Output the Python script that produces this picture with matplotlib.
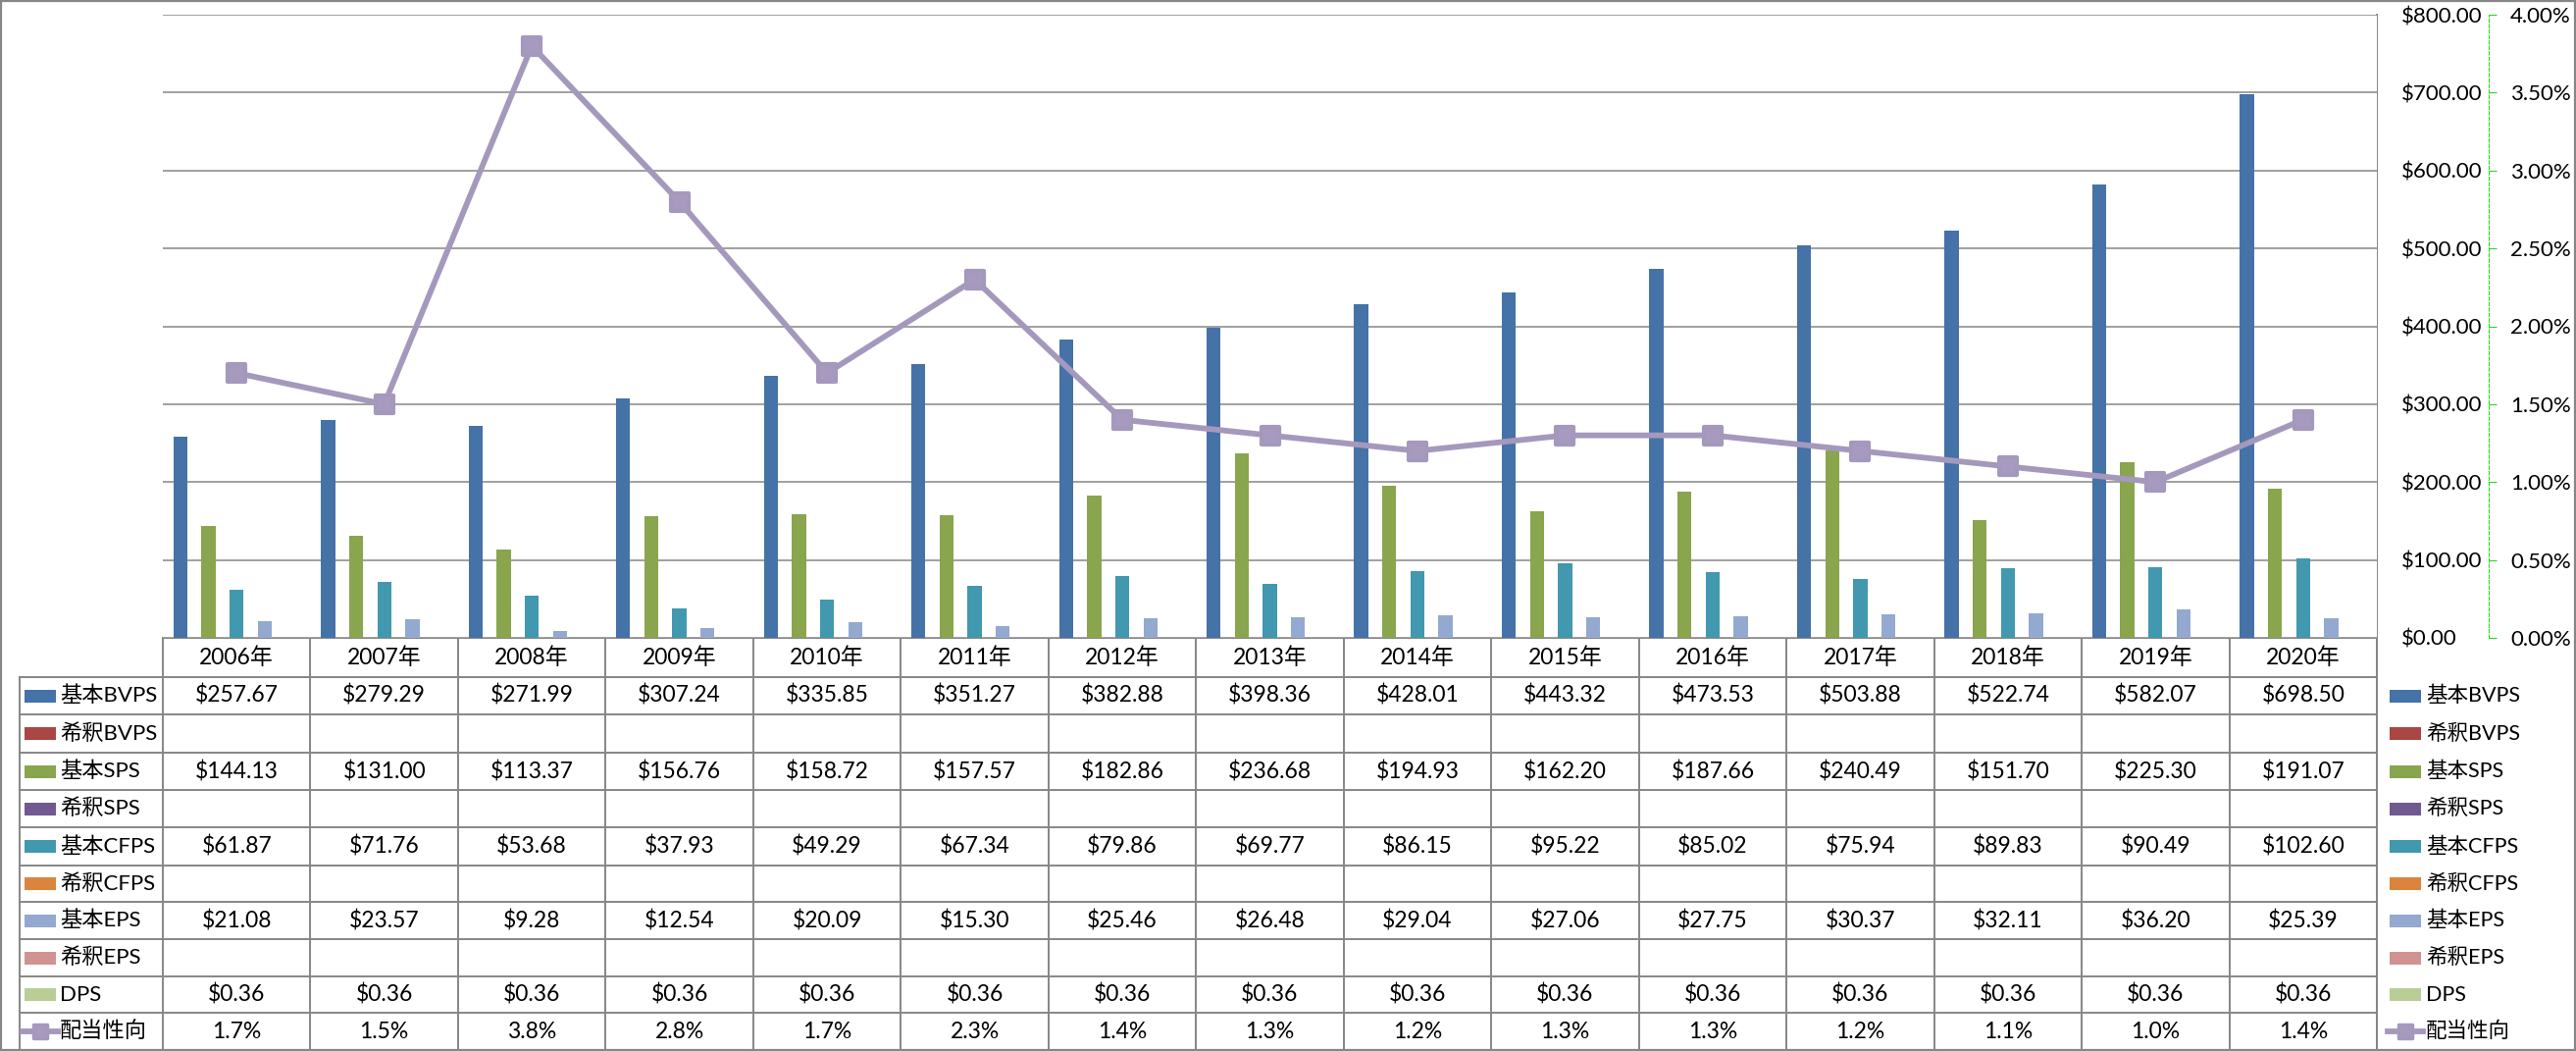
import matplotlib
matplotlib.use("Agg")
import matplotlib.pyplot as plt
from matplotlib.markers import MarkerStyle
from matplotlib.lines import Line2D
from matplotlib.patches import Rectangle
from matplotlib.ticker import FuncFormatter, MultipleLocator

plt.rcParams['font.family'] = ['Lato', 'Noto Sans CJK JP', 'DejaVu Sans']

# ---------------- data ----------------
years = ["2006年", "2007年", "2008年", "2009年", "2010年", "2011年", "2012年", "2013年",
         "2014年", "2015年", "2016年", "2017年", "2018年", "2019年", "2020年"]
bvps = [257.67, 279.29, 271.99, 307.24, 335.85, 351.27, 382.88, 398.36, 428.01, 443.32,
        473.53, 503.88, 522.74, 582.07, 698.50]
bvps_dil = [None] * 15
sps = [144.13, 131.00, 113.37, 156.76, 158.72, 157.57, 182.86, 236.68, 194.93, 162.20,
       187.66, 240.49, 151.70, 225.30, 191.07]
sps_dil = [None] * 15
cfps = [61.87, 71.76, 53.68, 37.93, 49.29, 67.34, 79.86, 69.77, 86.15, 95.22,
        85.02, 75.94, 89.83, 90.49, 102.60]
cfps_dil = [None] * 15
eps = [21.08, 23.57, 9.28, 12.54, 20.09, 15.30, 25.46, 26.48, 29.04, 27.06,
       27.75, 30.37, 32.11, 36.20, 25.39]
eps_dil = [None] * 15
dps = [0.36, 0.36, 0.36, 0.36, 0.36, 0.36, 0.36, 0.36, 0.36, 0.36, 0.36, 0.36, 0.36, 0.36, 0.36]
payout = [1.7, 1.5, 3.8, 2.8, 1.7, 2.3, 1.4, 1.3, 1.2, 1.3, 1.3, 1.2, 1.1, 1.0, 1.4]  # %

series_names = ["基本BVPS", "希釈BVPS", "基本SPS", "希釈SPS", "基本CFPS", "希釈CFPS",
                "基本EPS", "希釈EPS", "DPS"]
series_vals = [bvps, bvps_dil, sps, sps_dil, cfps, cfps_dil, eps, eps_dil, dps]
series_colors = ["#4572A7", "#AA4643", "#89A54E", "#71588F", "#4198AF", "#DB843D",
                 "#93A9CF", "#D19392", "#B9CD96"]
line_name = "配当性向"
line_color = "#A598BD"

# ---------------- layout (pixels) ----------------
W, H = 2626, 1071
X0, X1, YT, Y0 = 166, 2423, 15, 650
GRID = "#868686"

fig = plt.figure(figsize=(W / 100, H / 100), dpi=100)
fig.patch.set_facecolor("white")

ax = fig.add_axes([X0 / W, 1 - Y0 / H, (X1 - X0) / W, (Y0 - YT) / H])
n = len(years)
xs = list(range(n))
slot = 1 / 10.5
for i, (vals, col) in enumerate(zip(series_vals, series_colors)):
    xv = [x + (i - 4) * slot for x, v in zip(xs, vals) if v is not None]
    yv = [v for v in vals if v is not None]
    if yv:
        ax.bar(xv, yv, width=slot, color=col, linewidth=0, zorder=3)

ax.set_xlim(-0.5, n - 0.5)
ax.set_ylim(0, 800)
ax.set_xticks([])
ax.grid(axis="y", color=GRID, linewidth=1.1, zorder=0)
ax.set_axisbelow(True)
for s in ax.spines.values():
    s.set_visible(False)

ax2 = ax.twinx()
ax2.plot(xs, [p / 100 for p in payout], color=line_color, linewidth=4.2,
         marker=MarkerStyle("s", joinstyle="round"), markersize=13,
         markerfacecolor="#A899BF", markeredgecolor=line_color, markeredgewidth=3, zorder=5)
ax2.set_ylim(0, 0.04)
ax2.yaxis.set_major_locator(MultipleLocator(0.005))
ax2.yaxis.set_major_formatter(FuncFormatter(lambda v, p: f"{v * 100:.2f}%"))
for k, s in ax2.spines.items():
    s.set_visible(k == "right")
ax2.spines["right"].set_position(("axes", (2537 - X0) / (X1 - X0)))
ax2.spines["right"].set_color("#22DD22")
ax2.spines["right"].set_linestyle((0, (3, 2)))
ax2.spines["right"].set_linewidth(0.8)
ax2.tick_params(axis="y", direction="out", length=6, width=0.8, color="#22DD22",
                pad=10, labelsize=16, labelcolor="black")

# primary axis labels on the right (after twinx, which resets to left)
ax.yaxis.set_major_locator(MultipleLocator(100))
ax.yaxis.set_major_formatter(FuncFormatter(lambda v, p: f"${v:.2f}"))
ax.yaxis.tick_right()
ax.tick_params(axis="y", which="both", left=False, labelleft=False, right=False,
               labelright=True, length=0, pad=18, labelsize=16, labelcolor="black")

# ---------------- table & legends ----------------
tb = fig.add_axes([0, 0, 1, 1], zorder=-1)
tb.set_xlim(0, W)
tb.set_ylim(H, 0)
tb.axis("off")

rows_y = [690, 728, 767, 805, 843, 882, 919, 957, 995, 1032, 1070]
LX = 20
cw = (X1 - X0) / n
lw_t = 1.4


def hline(y, xa, xb):
    tb.add_line(Line2D([xa, xb], [y, y], color=GRID, lw=lw_t))


def vline(x, ya, yb):
    tb.add_line(Line2D([x, x], [ya, yb], color=GRID, lw=lw_t))


hline(Y0, X0, X1)
for y in rows_y:
    hline(y, LX, X1)
for j in range(n + 1):
    vline(X0 + j * cw, Y0, rows_y[-1])
vline(X1, YT, rows_y[-1])
vline(LX, rows_y[0], rows_y[-1])

# header
for j, yr in enumerate(years):
    tb.text(X0 + (j + 0.5) * cw, (Y0 + rows_y[0]) / 2, yr, ha="center", va="center",
            fontsize=16.5, color="black")

all_names = series_names + [line_name]
for r, name in enumerate(all_names):
    yc = (rows_y[r] + rows_y[r + 1]) / 2
    # values
    if r < len(series_vals):
        vals = series_vals[r]
        for j, v in enumerate(vals):
            if v is not None:
                tb.text(X0 + (j + 0.5) * cw, yc, f"${v:.2f}", ha="center", va="center",
                        fontsize=16.5, color="black")
    else:
        for j, v in enumerate(payout):
            tb.text(X0 + (j + 0.5) * cw, yc, f"{v:.1f}%", ha="center", va="center",
                    fontsize=16.5, color="black")
    # legend keys (left column and right legend)
    for px, tx in ((25, 61), (2436, 2473)):
        if r < len(series_vals):
            tb.add_patch(Rectangle((px, yc - 6.5), 32, 13, color=series_colors[r], lw=0))
        else:
            tb.add_line(Line2D([px - 2, px + 34], [yc, yc], color=line_color, lw=4.2))
            tb.plot([px + 16], [yc], marker=MarkerStyle("s", joinstyle="round"), markersize=10,
                    markerfacecolor="#A899BF", markeredgecolor=line_color, markeredgewidth=2.5)
        tb.text(tx, yc, name, ha="left", va="center", fontsize=16 if px < 100 else 15.5,
                color="black")

# figure border
tb.add_patch(Rectangle((1, 1), W - 2, H - 2, fill=False, edgecolor=GRID, lw=1.6))

fig.savefig("out.png", dpi=100, facecolor="white")
